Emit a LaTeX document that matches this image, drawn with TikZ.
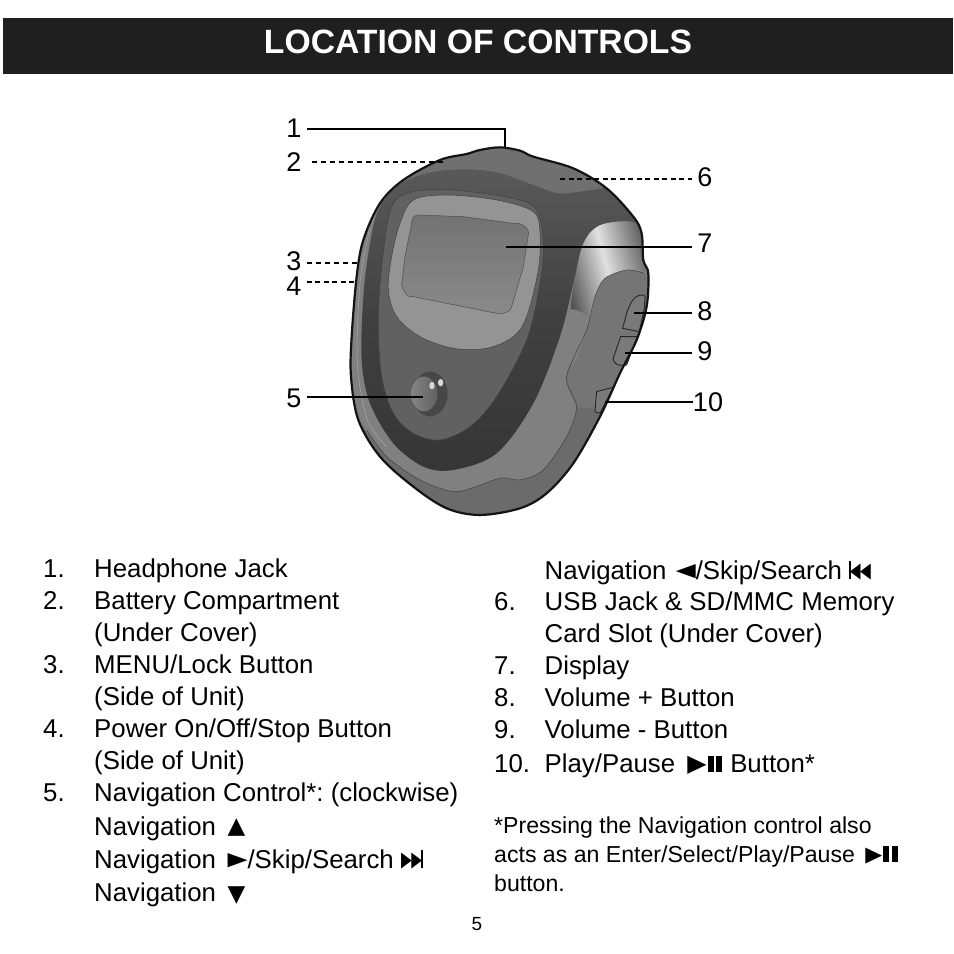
\documentclass[tikz,border=0pt]{standalone}
\usepackage{fontspec}
\usepackage{graphicx}
\setmainfont{Liberation Sans}
\newfontfamily\symfont{DejaVu Sans}
\frenchspacing
% small icons that sit in the running text
\newcommand{\tipsym}[2]{{\symfont\fontsize{#1}{#1}\selectfont #2}}
\newcommand{\tipup}{\raisebox{1.5pt}{\tipsym{23}{▲}}}
\newcommand{\tipdown}{\raisebox{0pt}{\tipsym{23}{▼}}}
\newcommand{\tipright}{\raisebox{3pt}{\scalebox{1}[0.72]{\tipsym{26}{▶}}}}
\newcommand{\tipleft}{\raisebox{3pt}{\scalebox{1}[0.72]{\tipsym{26}{◀}}}}
\newcommand{\skipnext}{\raisebox{2pt}{\scalebox{1}[1.5]{\tipsym{14}{▶}}}\kern-0.5pt\raisebox{2pt}{\scalebox{1}[1.5]{\tipsym{14}{▶}}}\kern-1pt\rule{1.6pt}{18pt}}
\newcommand{\skipprev}{\rule{1.6pt}{18pt}\kern-1pt\raisebox{2pt}{\scalebox{1}[1.5]{\tipsym{14}{◀}}}\kern-0.5pt\raisebox{2pt}{\scalebox{1}[1.5]{\tipsym{14}{◀}}}}
\newcommand{\playpause}[1]{\raisebox{1pt}{\scalebox{1}[0.95]{\tipsym{#1}{▶}}}\kern1pt\rule{6pt}{16.5pt}\kern2.5pt\rule{6pt}{16.5pt}}
\tikzset{
	titletext/.style={text=white,font=\fontsize{33.7}{36}\bfseries\selectfont,inner sep=0pt},
	calllabel/.style={font=\fontsize{27}{30}\selectfont,inner sep=5pt},
	leader/.style={line width=1.8pt,black},
	leaderdash/.style={leader,dash pattern=on 5pt off 4pt},
	leaderthin/.style={line width=1.1pt,black,dash pattern=on 5pt off 3.5pt},
	itemtext/.style={anchor=base west,inner sep=0pt,font=\fontsize{25.8}{30}\selectfont},
	notetext/.style={anchor=base west,inner sep=0pt,font=\fontsize{23.1}{26}\selectfont},
	panelline/.style={line width=0.5pt,draw=black!75},
	unitline/.style={line width=2.2pt,draw=black!92},
	buttonshape/.style={fill=black!52,draw=black!85,line width=0.9pt},
}
\begin{document}
\begin{tikzpicture}[x=1pt,y=-1pt]
	\useasboundingbox (0,0) rectangle (954,954);
	\fill[white] (0,0) rectangle (954,954);
	\fill[black!88] (3,18) rectangle (953,74);
	\node[titletext] (title) at (478,42) {LOCATION OF CONTROLS};
	%the unit, in coordinates of the 3x crop
	\begin{scope}[shift={(280,110)},x=0.3333pt,y=-0.3333pt]
		\def\unitpts{(600,120)(660,112)(720,122)(760,140)(880,175)(980,235)(1060,320)(1085,370)(1090,450)(1105,490)(1100,590)(1070,690)(1020,790)(960,920)(880,1060)(800,1150)(720,1195)(600,1215)(500,1195)(400,1130)(300,1040)(235,930)(213,800)(215,680)(230,500)(250,390)(300,280)(370,210)(480,150)(560,132)}
		\begin{scope}
			\path[clip] plot[smooth cycle,tension=0.55] coordinates {\unitpts};
			\fill[black!58] (150,80) rectangle (1150,1250);
			%strip between the band and the panel line
			\fill[black!50] plot[smooth,tension=0.5] coordinates {(1110,495)(1040,480)(975,505)(945,560)(920,660)(860,800)(890,890)(860,980)(790,1080)(720,1110)(660,1105)(530,1145)(420,1110)(320,1040)(250,950)} -- (150,900) -- (150,100) -- (1150,100) -- cycle;
			%side panel
			\fill[black!54] plot[smooth,tension=0.5] coordinates {(1110,495)(1040,480)(975,505)(945,560)(920,660)(860,800)(890,890)} -- (990,900) -- (1150,600) -- cycle;
			%top cover
			\fill[black!56] (150,80) rectangle (1150,260);
			%bright shoulder
			\shade[shading=axis,left color=black!68,right color=black!64,middle color=black!12,shading angle=105] plot[smooth cycle,tension=0.5] coordinates {(900,420)(960,345)(1060,335)(1100,380)(1100,478)(1040,480)(975,505)(945,560)(925,640)(870,640)};
			\fill[black!50] plot[smooth cycle,tension=0.5] coordinates {(868,600)(925,620)(920,660)(880,760)(820,760)(850,680)};
			%dark band round the face
			\shade[top color=black!65,bottom color=black!79,middle color=black!75] plot[smooth cycle,tension=0.55] coordinates {(378,212)(500,180)(640,185)(760,225)(840,250)(950,238)(985,240)(1060,320)(1090,370)(1060,335)(960,345)(910,400)(880,520)(840,680)(760,880)(650,1030)(520,1080)(430,1070)(340,1000)(270,880)(245,750)(250,560)(270,400)(300,290)};
			\draw[black!35,line width=0.5pt] plot[smooth,tension=0.5] coordinates {(270,350)(240,520)(232,760)(262,930)(320,1010)};
		\end{scope}
		\draw[panelline] plot[smooth,tension=0.5] coordinates {(1092,490)(1040,480)(975,505)(945,560)(920,660)(860,800)(890,890)(860,980)(790,1080)(720,1110)(660,1105)(530,1145)(420,1110)(320,1040)(260,960)};
		%face
		\path[fill=black!62,panelline] plot[smooth cycle,tension=0.55] coordinates {(335,290)(400,245)(520,240)(700,265)(770,300)(790,400)(780,520)(740,690)(650,860)(570,950)(480,990)(400,970)(340,910)(305,800)(295,640)(305,470)};
		\path[fill=black!42,panelline] plot[smooth cycle,tension=0.55] coordinates {(400,270)(500,255)(650,270)(760,305)(780,370)(775,480)(740,620)(700,680)(620,715)(520,715)(420,680)(350,620)(325,540)(335,440)(360,340)};
		\path[top color=black!55,bottom color=black!46,draw=black!70,line width=0.5pt] (415,315) -- (550,320) -- (700,340) to[out=10,in=75] (745,375) -- (730,470) -- (695,590) to[out=260,in=15] (660,612) -- (400,560) to[out=195,in=285] (365,525) -- (375,440) -- (395,340) to[out=100,in=180] cycle;
		%navigation control
		\fill[black!72] (450,852) ellipse (53 and 67);
		\path[left color=black!48,right color=black!62,draw=black!70,line width=0.4pt] (432,852) ellipse (41 and 53);
		\fill[white!85!black] (456,827) ellipse (8 and 11);
		\fill[white!85!black] (482,818) ellipse (8 and 11);
		%side buttons
		\path[buttonshape] (1088,555) to[out=180,in=70] (1040,610) -- (1028,655) -- (1078,665) -- (1094,590) to[out=100,in=0] cycle;
		\path[buttonshape] (1022,680) -- (1072,680) -- (1040,765) to[out=200,in=260] (1000,745) -- cycle;
		\path[buttonshape] (950,845) -- (1000,832) -- (960,910) -- (945,905) -- cycle;
		\draw[unitline] plot[smooth cycle,tension=0.55] coordinates {\unitpts};
	\end{scope}
	%callout numbers
	\node[calllabel] (c1) at (294,128) {1};
	\node[calllabel,inner sep=10pt] (c2) at (294,162) {2};
	\node[calllabel] (c3) at (294,261) {3};
	\node[calllabel] (c4) at (294,286) {4};
	\node[calllabel] (c5) at (294,398) {5};
	\node[calllabel] (c6) at (705,177) {6};
	\node[calllabel] (c7) at (705,243) {7};
	\node[calllabel] (c8) at (705,311) {8};
	\node[calllabel] (c9) at (705,351) {9};
	\node[calllabel,inner sep=0pt] (c10) at (708,402) {10};
	\coordinate (t1) at (505,147);
	\coordinate (t2) at (446,162);
	\coordinate (t3) at (360,263);
	\coordinate (t4) at (357,282);
	\coordinate (t5) at (423,397);
	\coordinate (t6) at (560,179);
	\coordinate (t7) at (506,247);
	\coordinate (t8) at (634,313);
	\coordinate (t9) at (625,353);
	\coordinate (t10) at (605,402);
	\draw[leader] (c1.east |- 0,129) -| (t1);
	\draw[leaderdash] (c2.east) -- (t2);
	\draw[leaderdash] (c3.east |- t3) -- (t3);
	\draw[leaderthin] (c4.east |- t4) -- (t4);
	\draw[leader] (c5.east |- t5) -- (t5);
	\draw[leaderthin] (t6) -- (c6.west |- t6);
	\draw[leader] (t7) -- (c7.west |- t7);
	\draw[leader] (t8) -- (c8.west |- t8);
	\draw[leader] (t9) -- (c9.west |- t9);
	\draw[leader] (t10) -- (c10.west |- t10);
	%left list
	\foreach \n/\y/\txt in {a/577/1.,b/609/2.,c/673/3.,d/737/4.,e/801/5.}
		\node[itemtext] (num\n) at (43,\y) {\txt};
	\foreach \n/\y/\txt in {a/577/{Headphone Jack},b/609/{Battery Compartment},c/641/{(Under Cover)},d/673/{MENU/Lock Button},e/705/{(Side of Unit)},f/737/{Power On/Off/Stop Button},g/769/{(Side of Unit)},h/801/{Navigation Control*: (clockwise)},i/835/{Navigation \,\tipup},j/868/{Navigation \,\tipright/Skip/Search \skipnext},k/901/{Navigation \,\tipdown}}
		\node[itemtext] (left\n) at (94,\y) {\txt};
	%right list
	\foreach \n/\y/\txt in {a/610/6.,b/674/7.,c/706/8.,d/738/9.,e/772/10.}
		\node[itemtext] (rnum\n) at (494,\y) {\txt};
	\foreach \n/\y/\txt in {a/579/{Navigation \kern2pt\tipleft/Skip/Search \skipprev},b/610/{USB Jack \& SD/MMC Memory},c/642/{Card Slot (Under Cover)},d/674/{Display},e/706/{Volume + Button},f/738/{Volume - Button},g/772/{Play/Pause \kern5pt\playpause{25}\kern1pt\ Button*}}
		\node[itemtext] (right\n) at (544.5,\y) {\txt};
	\node[notetext] (note1) at (494,833) {*Pressing the Navigation control also};
	\node[notetext] (note2) at (494,862) {acts as an Enter/Select/Play/Pause \,\playpause{22}};
	\node[notetext] (note3) at (494,891) {button.};
	\node[font=\fontsize{19}{22}\selectfont,inner sep=0pt] (page) at (477,924) {5};
\end{tikzpicture}
\end{document}
